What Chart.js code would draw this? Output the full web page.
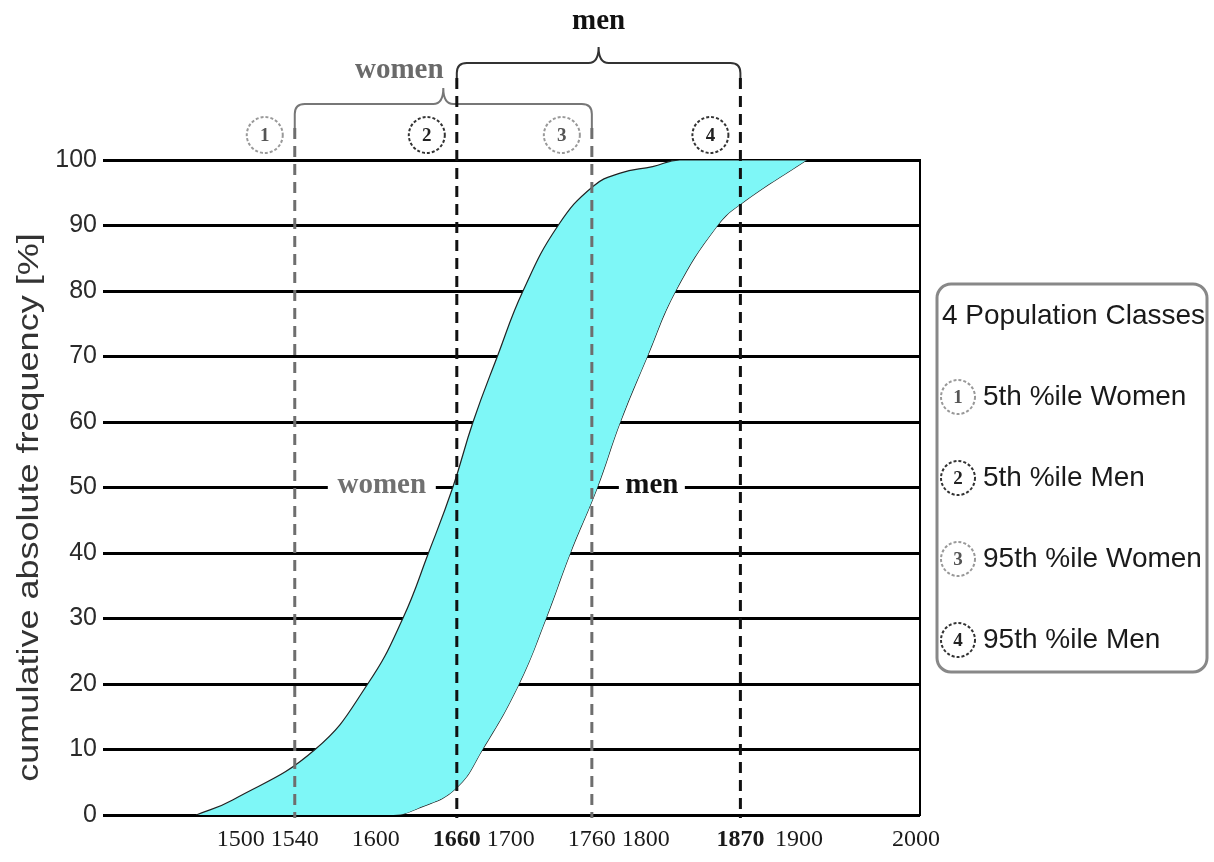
<!DOCTYPE html>
<html>
<head>
<meta charset="utf-8">
<script src="https://cdn.jsdelivr.net/npm/chart.js@4.4.1/dist/chart.umd.min.js"></script>
<style>
  html, body { margin: 0; padding: 0; background: #fff; }
  canvas { display: block; }
</style>
</head>
<body>
<canvas id="chart" width="1214" height="862"></canvas>
<script>
// body height (mm) against cumulative frequency (%)
const womenHeight = [1467, 1494, 1555, 1594, 1620, 1639, 1657, 1672, 1690, 1709, 1735, 1761, 1781, 1805, 1825, 1919];
const womenPct    = [0,    2.3,  10,   20,   30,   40,   50,   60,   70,   80,   90,   96,   98,   99,   100,  100];
const menHeight   = [1467, 1613, 1631, 1659, 1679, 1706, 1726, 1744, 1764, 1781, 1801, 1822, 1853, 1871, 1919];
const menPct      = [0,    0,    1,    4,    10,   20,   30,   40,   50,   60,   70,   80,   90,   93.4, 100];

const xTicks = [1500, 1540, 1600, 1660, 1700, 1760, 1800, 1870, 1900, 2000];
const boldTicks = [1660, 1870];

// the four population classes
const classValues = [1540, 1660, 1760, 1870];
const classLabels = ['5th %ile Women', '5th %ile Men', '95th %ile Women', '95th %ile Men'];
const classGroup  = ['women', 'men', 'women', 'men'];

const SANS = '"Liberation Sans", Arial, sans-serif';
const SERIF = '"Liberation Serif", "Times New Roman", serif';
const FILL = '#7ef7f7';

function circledNumber(ctx, x, y, r, n, dark) {
    ctx.save();
    ctx.beginPath();
    ctx.arc(x, y, r, 0, Math.PI * 2);
    ctx.setLineDash([3, 2]);
    ctx.lineWidth = 2;
    ctx.strokeStyle = dark ? '#333' : '#999';
    ctx.stroke();
    ctx.setLineDash([]);
    ctx.fillStyle = dark ? '#222' : '#555';
    ctx.font = 'bold 19px ' + SERIF;
    ctx.textAlign = 'center';
    ctx.textBaseline = 'middle';
    ctx.fillText(String(n), x, y + 1);
    ctx.restore();
}

function brace(ctx, x1, x2, yLine, yEnd, tip, color) {
    const r = 10;
    const mid = (x1 + x2) / 2;
    ctx.save();
    ctx.beginPath();
    ctx.moveTo(x1, yEnd);
    ctx.lineTo(x1, yLine + r);
    ctx.quadraticCurveTo(x1, yLine, x1 + r, yLine);
    ctx.lineTo(mid - r, yLine);
    ctx.quadraticCurveTo(mid, yLine, mid, yLine - tip);
    ctx.quadraticCurveTo(mid, yLine, mid + r, yLine);
    ctx.lineTo(x2 - r, yLine);
    ctx.quadraticCurveTo(x2, yLine, x2, yLine + r);
    ctx.lineTo(x2, yEnd);
    ctx.lineWidth = 2;
    ctx.strokeStyle = color;
    ctx.stroke();
    ctx.restore();
}

function labelOnLine(ctx, text, cx, y, halfGap, font, color) {
    ctx.save();
    ctx.fillStyle = '#fff';
    ctx.fillRect(cx - halfGap, y - 4, halfGap * 2, 8);
    ctx.font = font;
    ctx.fillStyle = color;
    ctx.textAlign = 'center';
    ctx.textBaseline = 'middle';
    ctx.fillText(text, cx, y - 2);
    ctx.restore();
}

const annotations = {
    id: 'annotations',
    afterDraw(chart) {
        const ctx = chart.ctx;
        const xs = chart.scales.x;
        const ys = chart.scales.y;
        const area = chart.chartArea;
        const px = classValues.map(v => xs.getPixelForValue(v));

        // right frame line
        ctx.save();
        ctx.beginPath();
        ctx.moveTo(area.right, area.top - 1);
        ctx.lineTo(area.right, area.bottom + 1);
        ctx.lineWidth = 2;
        ctx.strokeStyle = '#000';
        ctx.stroke();
        ctx.restore();

        // braces
        brace(ctx, px[0], px[2], 104, 128, 16, '#777');
        brace(ctx, px[1], px[3], 63, 78, 16, '#333');

        // dashed percentile lines
        px.forEach((x, i) => {
            const men = classGroup[i] === 'men';
            ctx.save();
            ctx.beginPath();
            ctx.moveTo(x, men ? 78 : 128);
            ctx.lineTo(x, area.bottom + 3);
            ctx.setLineDash([11, 7]);
            ctx.lineWidth = 3;
            ctx.strokeStyle = men ? '#111' : '#6e6e6e';
            ctx.stroke();
            ctx.restore();
            circledNumber(ctx, x - 30, 135, 18, i + 1, men);
        });

        // brace labels
        ctx.save();
        ctx.textAlign = 'center';
        ctx.textBaseline = 'middle';
        ctx.font = 'bold 29px ' + SERIF;
        ctx.fillStyle = '#6a6a6a';
        ctx.fillText('women', (px[0] + px[2]) / 2 - 44, 71);
        ctx.fillStyle = '#111';
        ctx.fillText('men', (px[1] + px[3]) / 2, 22);
        ctx.restore();

        // labels on the 50 % line
        const y50 = ys.getPixelForValue(50);
        labelOnLine(ctx, 'women', px[1] - 75, y50, 54, 'bold 29px ' + SERIF, '#707070');
        labelOnLine(ctx, 'men', px[2] + 60, y50, 33, 'bold 29px ' + SERIF, '#111');

        // y axis title
        ctx.save();
        ctx.translate(38, (area.top + area.bottom) / 2 + 20);
        ctx.rotate(-Math.PI / 2);
        ctx.scale(1.2, 1);
        ctx.font = '30px ' + SANS;
        ctx.fillStyle = '#333';
        ctx.textAlign = 'center';
        ctx.textBaseline = 'alphabetic';
        ctx.fillText('cumulative absolute frequency [%]', 0, 0);
        ctx.restore();

        // legend box
        const bx = area.right + 17, by = 284, bw = 270, bh = 388;
        ctx.save();
        ctx.beginPath();
        ctx.roundRect(bx, by, bw, bh, 14);
        ctx.lineWidth = 3;
        ctx.strokeStyle = '#888';
        ctx.stroke();
        ctx.font = '28px ' + SANS;
        ctx.fillStyle = '#1a1a1a';
        ctx.textBaseline = 'middle';
        ctx.fillText('4 Population Classes', bx + 5, by + 32);
        classLabels.forEach((t, i) => {
            const y = by + 113 + i * 81;
            circledNumber(ctx, bx + 21, y, 17, i + 1, classGroup[i] === 'men');
            ctx.font = '28px ' + SANS;
            ctx.fillStyle = '#1a1a1a';
            ctx.textAlign = 'left';
            ctx.textBaseline = 'middle';
            ctx.fillText(t, bx + 46, y);
        });
        ctx.restore();
    }
};

new Chart(document.getElementById('chart'), {
    type: 'line',
    data: {
        datasets: [{
            label: 'women',
            data: womenHeight.map((h, i) => ({ x: h, y: womenPct[i] })),
            borderColor: '#222',
            borderWidth: 1.2,
            backgroundColor: FILL,
            fill: '+1',
            pointRadius: 0,
            tension: 0.45
        }, {
            label: 'men',
            data: menHeight.map((h, i) => ({ x: h, y: menPct[i] })),
            borderColor: '#222',
            borderWidth: 1.2,
            fill: false,
            pointRadius: 0,
            tension: 0.45
        }]
    },
    options: {
        responsive: false,
        animation: false,
        layout: { padding: { top: 160, right: 294, bottom: 0, left: 0 } },
        plugins: {
            legend: { display: false },
            tooltip: { enabled: false }
        },
        scales: {
            x: {
                type: 'linear',
                min: 1398,
                max: 2003,
                grid: { display: false, drawTicks: false },
                border: { display: false },
                afterBuildTicks: scale => { scale.ticks = xTicks.map(v => ({ value: v })); },
                afterFit: scale => { scale.height = 47; },
                ticks: {
                    autoSkip: false,
                    maxRotation: 0,
                    minRotation: 0,
                    padding: 10,
                    color: '#1a1a1a',
                    // 1900 sits a little right of its place in the original print
                    callback: v => (v === 1900 ? '\u2002\u2002\u2002' : '') + v,
                    font: ctx => ({
                        family: SERIF,
                        size: 24,
                        weight: boldTicks.includes(ctx.tick && ctx.tick.value) ? 'bold' : 'normal'
                    })
                }
            },
            y: {
                min: 0,
                max: 100,
                z: 1,
                grid: { color: '#000', lineWidth: 3, drawTicks: false },
                border: { display: false },
                afterFit: scale => { scale.width = 103; },
                ticks: {
                    stepSize: 10,
                    padding: 6,
                    color: '#2a2a2a',
                    font: { family: SANS, size: 25 }
                }
            }
        }
    },
    plugins: [annotations]
});
</script>
</body>
</html>
